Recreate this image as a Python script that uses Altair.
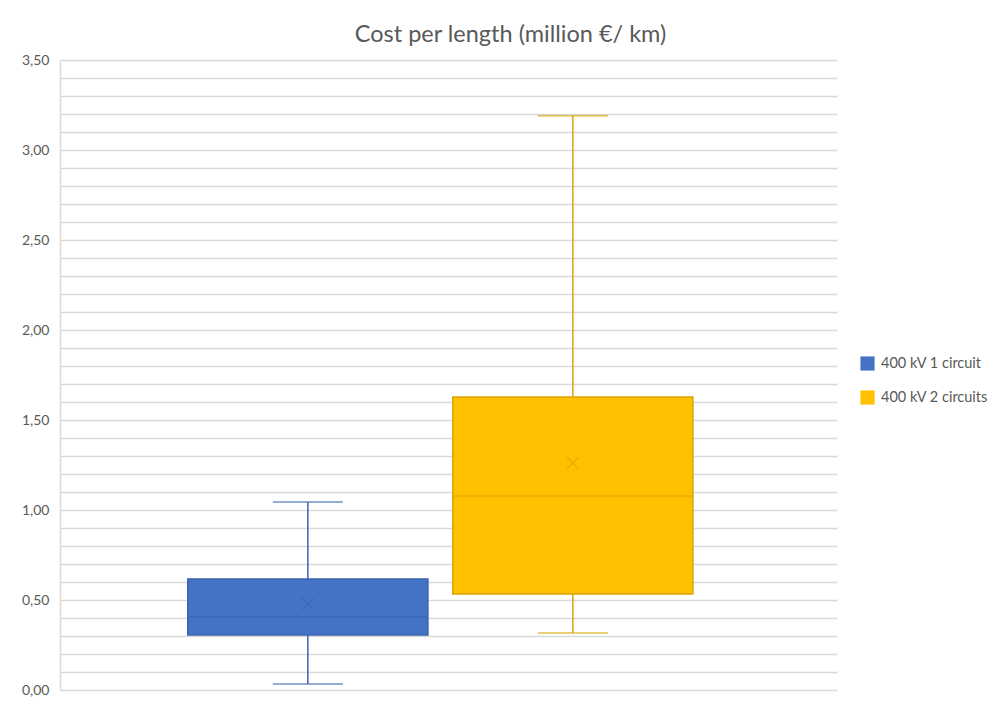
import altair as alt
import pandas as pd

series = ["400 kV 1 circuit", "400 kV 2 circuits"]
whisker_low = [0.033, 0.317]
q1 = [0.306, 0.533]
median = [0.405, 1.078]
q3 = [0.617, 1.628]
whisker_high = [1.044, 3.19]
mean = [0.478, 1.261]
grid_ticks = [round(i * 0.1, 2) for i in range(36)]

fills = ["#4472C4", "#FFC000"]
strokes = ["#3A63AE", "#DAA400"]

df = pd.DataFrame({
    "series": series,
    "low": whisker_low,
    "q1": q1,
    "median": median,
    "q3": q3,
    "high": whisker_high,
    "mean": mean,
})

xenc = alt.X(
    "series:N",
    scale=alt.Scale(domain=series, paddingInner=0.094, paddingOuter=0.513, align=0.47),
    axis=None,
)
fill_scale = alt.Scale(domain=series, range=fills)
stroke_scale = alt.Scale(domain=series, range=strokes)

label_expr = ("abs(datum.value*2 - round(datum.value*2)) < 0.001 ? "
              "replace(format(datum.value, '.2f'), '.', ',') : ''")

yaxis = alt.Axis(
    values=grid_ticks,
    labelExpr=label_expr,
    labelOverlap=False,
    ticks=False,
    domain=True,
    domainColor="#D9D9D9",
    domainWidth=1.5,
    gridColor="#D9D9D9",
    gridWidth=1.5,
    labelColor="#595959",
    labelFontSize=14,
    labelFont="Lato",
    labelPadding=11,
    title=None,
)
yscale = alt.Scale(domain=[0, 3.5], nice=False, zero=True)


def Y(field):
    return alt.Y(field, scale=yscale, axis=yaxis)


def scol():
    return alt.Color("series:N", scale=stroke_scale, legend=None)


base = alt.Chart(df)

whisk_lo = base.mark_rule(strokeWidth=1.5).encode(
    x=xenc, y=Y("low:Q"), y2="q1:Q", color=scol()
)
whisk_hi = base.mark_rule(strokeWidth=1.5).encode(
    x=xenc, y=Y("q3:Q"), y2="high:Q", color=scol()
)
cap_lo = base.mark_tick(size=70, thickness=1.5).encode(
    x=xenc, y=Y("low:Q"), color=scol()
)
cap_hi = base.mark_tick(size=70, thickness=1.5).encode(
    x=xenc, y=Y("high:Q"), color=scol()
)
boxes = base.mark_bar(strokeWidth=1.5).encode(
    x=xenc,
    y=Y("q1:Q"),
    y2="q3:Q",
    fill=alt.Fill(
        "series:N",
        scale=fill_scale,
        legend=alt.Legend(
            title=None,
            orient="none",
            legendX=800,
            legendY=296,
            symbolType="square",
            symbolSize=200,
            symbolStrokeWidth=0,
            labelFontSize=14.5,
            labelFont="Lato",
            labelColor="#595959",
            rowPadding=18,
            labelOffset=6,
        ),
    ),
    stroke=alt.Stroke("series:N", scale=stroke_scale, legend=None),
)
med = base.mark_tick(size=240, thickness=1.5).encode(
    x=xenc, y=Y("median:Q"), color=scol()
)
means = base.mark_point(
    shape="M-1,-1L1,1M-1,1L1,-1", size=130, strokeWidth=1.3, filled=False
).encode(x=xenc, y=Y("mean:Q"), color=scol())

chart = (
    alt.layer(whisk_lo, whisk_hi, cap_lo, cap_hi, boxes, med, means)
    .resolve_scale(color="independent", fill="independent", stroke="independent")
    .properties(
        width=777,
        height=630,
        autosize=alt.AutoSizeParams(type="none"),
        padding={"left": 52, "top": 52, "right": 158, "bottom": 7},
        title=alt.TitleParams(
            "Cost per length (million €/ km)",
            fontSize=23.5,
            font="Lato",
            fontWeight="normal",
            color="#595959",
            dx=62,
            offset=7,
        ),
    )
    .configure(background="white", view=alt.ViewConfig(stroke="transparent", strokeWidth=0))
)

chart.save("out.html", embed_options={"renderer": "svg", "actions": False})
